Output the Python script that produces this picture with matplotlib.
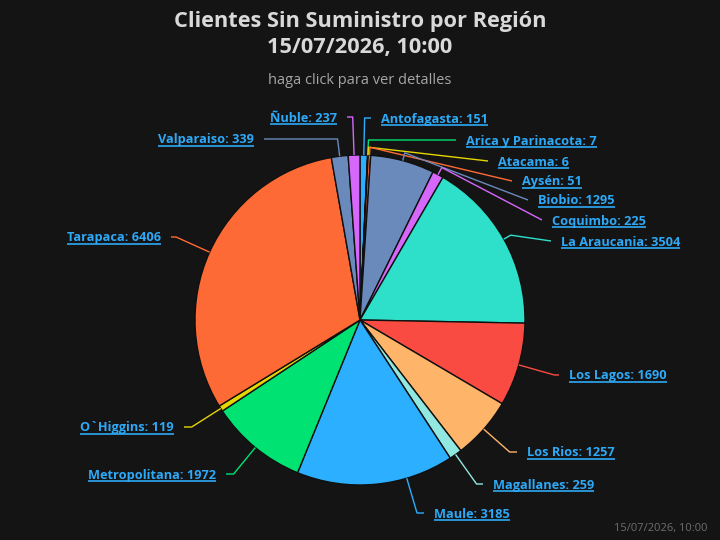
import numpy as np
import matplotlib

matplotlib.use("Agg")
import matplotlib.pyplot as plt

regions = [
    "Antofagasta", "Arica y Parinacota", "Atacama", "Aysén", "Biobio", "Coquimbo",
    "La Araucania", "Los Lagos", "Los Rios", "Magallanes", "Maule", "Metropolitana",
    "O`Higgins", "Tarapaca", "Valparaiso", "Ñuble",
]
clients = [151, 7, 6, 51, 1295, 225, 3504, 1690, 1257, 259, 3185, 1972, 119, 6406, 339, 237]
palette = [
    "#2caffe", "#00e272", "#e4d600", "#fe6a35", "#6b8abc",
    "#d568fb", "#2ee0ca", "#fa4b42", "#feb56a", "#91e8e1",
]
title_lines = ["Clientes Sin Suministro por Región", "15/07/2026, 10:00"]
subtitle = "haga click para ver detalles"
stamp = "15/07/2026, 10:00"

# label layout in screen pixels (x of the text edge, y of the text middle, side)
label_layout = [
    (381, 118, "right"), (466, 140, "right"), (498, 161, "right"), (522, 181, "right"),
    (538, 200, "right"), (552, 220, "right"), (561, 241, "right"), (569, 375, "right"),
    (527, 452, "right"), (493, 484, "right"), (434, 513, "right"), (216, 474, "left"),
    (174, 427, "left"), (161, 237, "left"), (254, 139, "left"), (337, 117, "left"),
]
# the Maule connector leaves its slice off the middle, as in the original
connector_shift = {"Maule": 11}

W, H = 720, 540
BG = "#141414"
LABEL_BLUE = "#2ea9f7"
CX, CY, R = 360, H - 320, 165

fig = plt.figure(figsize=(W / 100, H / 100), dpi=100, facecolor=BG)
ax = fig.add_axes([0, 0, 1, 1])
ax.set_facecolor(BG)

colors = [palette[i % len(palette)] for i in range(len(clients))]
wedges, _ = ax.pie(
    clients, colors=colors, startangle=90, counterclock=False,
    center=(CX, CY), radius=R,
    wedgeprops=dict(edgecolor="#101010", linewidth=1),
)
ax.set_xlim(0, W)
ax.set_ylim(0, H)
ax.set_aspect("equal")
ax.axis("off")

texts = []
for name, val, wedge, (lx, ly, side), col in zip(regions, clients, wedges, label_layout, colors):
    mid = np.radians((wedge.theta1 + wedge.theta2) / 2 + connector_shift.get(name, 0))
    dx, dy = np.cos(mid), np.sin(mid)
    touch = (CX + R * dx, CY + R * dy)
    brk = (CX + (R + 8) * dx, CY + (R + 8) * dy)
    y = H - ly
    ax_x = lx - 10 if side == "right" else lx + 10
    path = [(ax_x, y)]
    if abs(dy) > 1e-6:
        t = (y - CY) / dy
        crook_x = CX + t * dx
        if t > 0:
            if side == "right" and brk[0] <= crook_x <= ax_x:
                path.append((crook_x, y))
            elif side == "left" and ax_x <= crook_x <= brk[0]:
                path.append((crook_x, y))
    path += [brk, touch]
    xs, ys = zip(*path)
    ax.plot(xs, ys, color=col, lw=1, solid_capstyle="butt", zorder=1)

    txt = ax.text(
        lx, H - (ly + 4.5), f"{name}: {val}",
        ha="left" if side == "right" else "right", va="baseline",
        color=LABEL_BLUE, fontsize=9.2, fontweight="bold", family="Open Sans",
    )
    texts.append((txt, H - (ly + 7)))

for line, ty in zip(title_lines, (22, 47)):
    ax.text(CX, H - ty, line, ha="center", va="center", color="#d9d9d9",
            fontsize=15.7, fontweight="bold", family="Open Sans")
ax.text(CX, H - 80, subtitle, ha="center", va="center", color="#a6a6a6",
        fontsize=10.5, family="Open Sans")
ax.text(708, H - 529, stamp, ha="right", va="center", color="#6e6e6e",
        fontsize=8, family="Open Sans")

# underline the labels (they are links in the original chart)
fig.canvas.draw()
renderer = fig.canvas.get_renderer()
inv = ax.transData.inverted()
for txt, uy in texts:
    bb = txt.get_window_extent(renderer)
    x0, _ = inv.transform((bb.x0, 0))
    x1, _ = inv.transform((bb.x1, 0))
    ax.plot([x0, x1], [uy, uy], color=LABEL_BLUE, lw=1.2, solid_capstyle="butt")

fig.savefig("out.png", dpi=100, facecolor=BG)
